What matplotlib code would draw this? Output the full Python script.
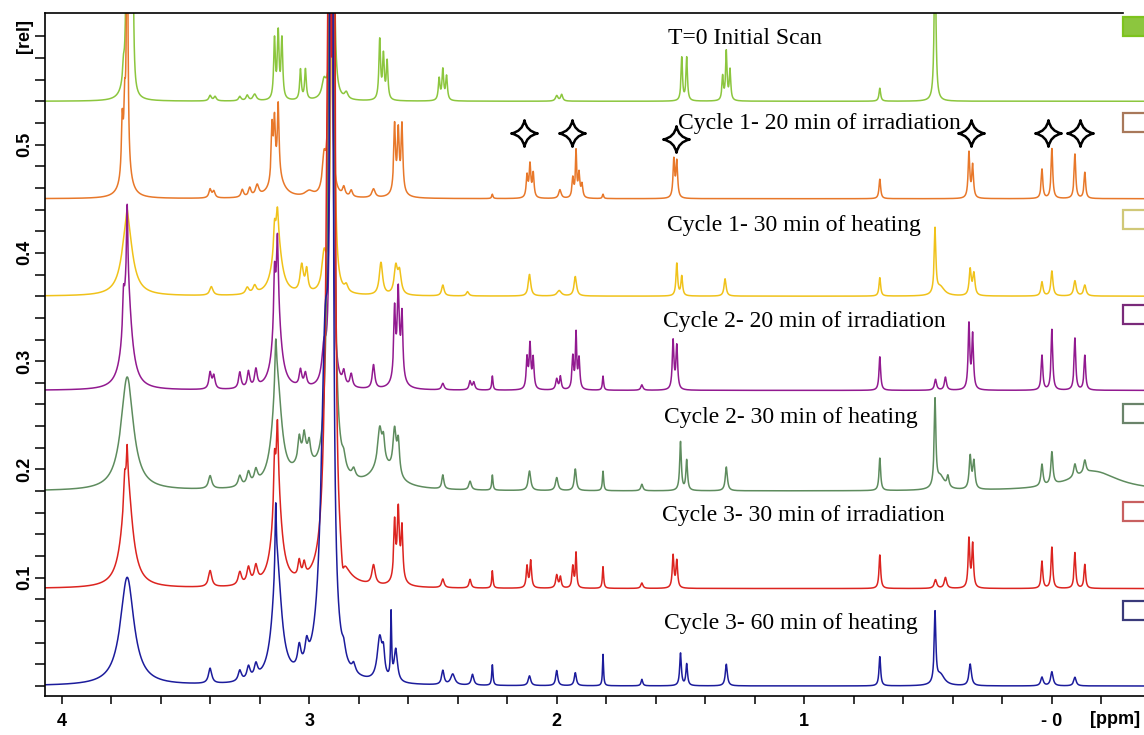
import numpy as np
import matplotlib
matplotlib.use("Agg")
import matplotlib.pyplot as plt
from matplotlib.path import Path
from matplotlib.patches import Rectangle

# ---- data (ppm, height, half width) ----
labels = [
    "T=0 Initial Scan",
    "Cycle 1- 20 min of irradiation",
    "Cycle 1- 30 min of heating",
    "Cycle 2- 20 min of irradiation",
    "Cycle 2- 30 min of heating",
    "Cycle 3- 30 min of irradiation",
    "Cycle 3- 60 min of heating",
]
offsets = [0.54, 0.45, 0.36, 0.273, 0.18, 0.09, 0.0]
colors = ["#8cc63e", "#e8782a", "#f0c21a", "#921a90", "#5e8c5e", "#dc2420", "#1c1c9c"]
box_edges = ["#7dc31d", "#a8785a", "#d0c878", "#7a2a7a", "#6a846a", "#c86060", "#3a3a7a"]

t0_peaks = [
    (3.74, 0.015, 0.02), (3.75, 0.015, 0.004), (3.736, 0.3, 0.003), (3.724, 0.05, 0.004),
    (3.714, 0.3, 0.003), (3.40, 0.005, 0.006), (3.38, 0.004, 0.006), (3.28, 0.004, 0.006),
    (3.25, 0.005, 0.006), (3.22, 0.006, 0.008), (3.14, 0.055, 0.004), (3.125, 0.06, 0.004),
    (3.11, 0.055, 0.004), (3.035, 0.028, 0.004), (3.015, 0.028, 0.004), (2.94, 0.015, 0.01),
    (2.905, 1.0, 0.003), (2.85, 0.006, 0.008), (2.715, 0.055, 0.004), (2.70, 0.04, 0.004),
    (2.685, 0.035, 0.004), (2.475, 0.02, 0.004), (2.46, 0.028, 0.004), (2.445, 0.022, 0.004),
    (2.00, 0.005, 0.006), (1.98, 0.006, 0.005), (1.495, 0.04, 0.0035), (1.475, 0.04, 0.0035),
    (1.33, 0.022, 0.0035), (1.315, 0.045, 0.0035), (1.30, 0.028, 0.0035),
    (0.695, 0.012, 0.004), (0.472, 0.15, 0.004),
]
c1_irr_peaks = [
    (3.74, 0.03, 0.02), (3.755, 0.05, 0.004), (3.745, 0.05, 0.004), (3.735, 0.3, 0.003),
    (3.40, 0.008, 0.006), (3.385, 0.006, 0.006), (3.27, 0.007, 0.006), (3.24, 0.008, 0.006),
    (3.21, 0.01, 0.008), (3.13, 0.02, 0.03), (3.15, 0.05, 0.004), (3.14, 0.05, 0.004),
    (3.125, 0.065, 0.004), (3.0, 0.005, 0.02), (2.94, 0.03, 0.008), (2.915, 1.0, 0.003),
    (2.86, 0.008, 0.006), (2.83, 0.006, 0.006), (2.74, 0.008, 0.008), (2.64, 0.01, 0.02),
    (2.655, 0.06, 0.004), (2.64, 0.05, 0.004), (2.625, 0.06, 0.004), (2.26, 0.004, 0.003),
    (2.12, 0.02, 0.004), (2.108, 0.03, 0.004), (2.095, 0.022, 0.004), (1.987, 0.008, 0.006),
    (1.935, 0.018, 0.004), (1.922, 0.042, 0.003), (1.91, 0.022, 0.004), (1.898, 0.012, 0.004),
    (1.813, 0.004, 0.003), (1.527, 0.035, 0.004), (1.515, 0.033, 0.004),
    (0.695, 0.018, 0.004), (0.335, 0.042, 0.004), (0.32, 0.03, 0.004),
    (0.04, 0.027, 0.004), (0.0, 0.046, 0.004), (-0.093, 0.041, 0.004), (-0.133, 0.024, 0.004),
]
c1_heat_peaks = [
    (3.735, 0.07, 0.025), (3.735, 0.01, 0.004), (3.395, 0.008, 0.008), (3.25, 0.006, 0.008),
    (3.22, 0.007, 0.008), (3.13, 0.06, 0.02), (3.14, 0.02, 0.004), (3.128, 0.02, 0.004),
    (3.03, 0.025, 0.008), (3.01, 0.02, 0.006), (2.94, 0.03, 0.01), (2.905, 1.0, 0.004),
    (2.85, 0.006, 0.008), (2.71, 0.03, 0.008), (2.65, 0.025, 0.008), (2.635, 0.02, 0.008),
    (2.46, 0.01, 0.006), (2.36, 0.004, 0.006), (2.11, 0.02, 0.006), (1.99, 0.005, 0.01),
    (1.925, 0.018, 0.006), (1.515, 0.03, 0.004), (1.495, 0.018, 0.004), (1.32, 0.016, 0.005),
    (0.695, 0.017, 0.004), (0.472, 0.06, 0.004), (0.45, 0.008, 0.02),
    (0.33, 0.024, 0.005), (0.315, 0.02, 0.005), (0.04, 0.013, 0.005), (0.0, 0.023, 0.005),
    (-0.093, 0.014, 0.006), (-0.133, 0.01, 0.006),
]
c2_irr_peaks = [
    (3.735, 0.1, 0.02), (3.75, 0.03, 0.004), (3.735, 0.07, 0.003), (3.40, 0.015, 0.006),
    (3.385, 0.012, 0.006), (3.28, 0.015, 0.006), (3.245, 0.015, 0.006), (3.215, 0.016, 0.006),
    (3.13, 0.08, 0.018), (3.14, 0.05, 0.004), (3.128, 0.06, 0.004), (3.035, 0.015, 0.006),
    (3.015, 0.012, 0.006), (2.94, 0.03, 0.01), (2.91, 1.0, 0.004), (2.86, 0.012, 0.006),
    (2.83, 0.012, 0.006), (2.74, 0.022, 0.006), (2.64, 0.03, 0.015), (2.655, 0.06, 0.004),
    (2.64, 0.06, 0.004), (2.625, 0.055, 0.004), (2.46, 0.006, 0.006), (2.35, 0.008, 0.005),
    (2.335, 0.007, 0.005), (2.26, 0.013, 0.003), (2.12, 0.028, 0.004), (2.108, 0.04, 0.004),
    (2.095, 0.028, 0.004), (2.0, 0.01, 0.005), (1.985, 0.012, 0.004), (1.935, 0.03, 0.004),
    (1.922, 0.05, 0.003), (1.91, 0.028, 0.004), (1.813, 0.013, 0.003), (1.656, 0.005, 0.005),
    (1.53, 0.045, 0.004), (1.515, 0.04, 0.004), (0.695, 0.031, 0.004), (0.47, 0.01, 0.005),
    (0.43, 0.012, 0.005), (0.335, 0.06, 0.004), (0.32, 0.05, 0.004), (0.04, 0.032, 0.004),
    (0.0, 0.056, 0.004), (-0.093, 0.048, 0.004), (-0.133, 0.032, 0.004),
]
c2_heat_peaks = [
    (3.735, 0.105, 0.03), (3.40, 0.012, 0.008), (3.28, 0.01, 0.008), (3.245, 0.012, 0.008),
    (3.215, 0.012, 0.008), (3.13, 0.1, 0.022), (3.135, 0.04, 0.004), (3.02, 0.025, 0.04),
    (3.04, 0.02, 0.006), (3.02, 0.018, 0.006), (3.0, 0.015, 0.006), (2.915, 0.5, 0.01),
    (2.905, 1.0, 0.004), (2.7, 0.02, 0.06), (2.86, 0.01, 0.008), (2.82, 0.008, 0.008),
    (2.715, 0.035, 0.01), (2.70, 0.02, 0.006), (2.655, 0.04, 0.008), (2.64, 0.03, 0.006),
    (2.46, 0.013, 0.005), (2.35, 0.008, 0.006), (2.26, 0.014, 0.003), (2.11, 0.018, 0.006),
    (2.0, 0.012, 0.006), (1.925, 0.02, 0.005), (1.813, 0.018, 0.003), (1.656, 0.006, 0.005),
    (1.50, 0.045, 0.004), (1.475, 0.028, 0.004), (1.315, 0.022, 0.005),
    (0.695, 0.03, 0.004), (0.472, 0.08, 0.004), (0.45, 0.012, 0.02), (0.42, 0.01, 0.005),
    (0.33, 0.03, 0.005), (0.315, 0.025, 0.005), (0.04, 0.02, 0.005), (0.0, 0.03, 0.005),
    (-0.17, 0.018, 0.12), (-0.093, 0.012, 0.006), (-0.133, 0.012, 0.006),
]
c3_irr_peaks = [
    (3.735, 0.1, 0.025), (3.745, 0.02, 0.004), (3.735, 0.03, 0.003), (3.40, 0.015, 0.008),
    (3.28, 0.012, 0.008), (3.245, 0.015, 0.008), (3.215, 0.015, 0.008), (3.13, 0.1, 0.02),
    (3.14, 0.04, 0.004), (3.128, 0.05, 0.004), (3.04, 0.015, 0.006), (3.02, 0.012, 0.006),
    (2.92, 0.6, 0.012), (2.9, 1.0, 0.004), (2.865, -0.02, 0.008), (2.74, 0.018, 0.008),
    (2.64, 0.02, 0.015), (2.655, 0.05, 0.004), (2.64, 0.05, 0.004), (2.625, 0.045, 0.004),
    (2.46, 0.008, 0.006), (2.35, 0.008, 0.005), (2.26, 0.016, 0.003), (2.12, 0.02, 0.004),
    (2.105, 0.025, 0.004), (2.0, 0.012, 0.005), (1.985, 0.01, 0.004), (1.935, 0.02, 0.004),
    (1.922, 0.032, 0.003), (1.813, 0.02, 0.003), (1.656, 0.005, 0.005), (1.53, 0.03, 0.004),
    (1.515, 0.025, 0.004), (0.695, 0.031, 0.004), (0.47, 0.008, 0.006), (0.43, 0.01, 0.006),
    (0.335, 0.045, 0.004), (0.32, 0.04, 0.004), (0.04, 0.025, 0.004), (0.0, 0.038, 0.004),
    (-0.093, 0.033, 0.004), (-0.133, 0.022, 0.004),
]
c3_heat_peaks = [
    (3.735, 0.1, 0.033), (3.40, 0.014, 0.008), (3.28, 0.01, 0.008), (3.245, 0.012, 0.008),
    (3.215, 0.012, 0.008), (3.13, 0.11, 0.022), (3.135, 0.06, 0.003), (3.04, 0.02, 0.008),
    (3.01, 0.018, 0.008), (2.935, 0.3, 0.02), (2.91, 2.0, 0.004), (2.86, 0.01, 0.008),
    (2.82, 0.008, 0.008), (2.715, 0.04, 0.012), (2.70, 0.02, 0.006), (2.669, 0.06, 0.0025),
    (2.65, 0.03, 0.008), (2.46, 0.013, 0.006), (2.42, 0.01, 0.01), (2.34, 0.01, 0.006),
    (2.26, 0.019, 0.003), (2.11, 0.009, 0.006), (2.0, 0.014, 0.005), (1.925, 0.012, 0.005),
    (1.813, 0.029, 0.0025), (1.656, 0.006, 0.004), (1.50, 0.03, 0.004), (1.475, 0.02, 0.004),
    (1.315, 0.02, 0.005), (0.695, 0.027, 0.004), (0.472, 0.065, 0.004), (0.45, 0.01, 0.02),
    (0.33, 0.02, 0.006), (0.04, 0.008, 0.006), (0.0, 0.013, 0.006), (-0.093, 0.008, 0.006),
]
all_peaks = [t0_peaks, c1_irr_peaks, c1_heat_peaks, c2_irr_peaks,
             c2_heat_peaks, c3_irr_peaks, c3_heat_peaks]

# stars mark the new peaks in the cycle 1 irradiation spectrum
star_ppm = [2.132, 1.939, 1.519, 0.327, 0.016, -0.113]
star_rel = [0.511, 0.511, 0.505, 0.511, 0.511, 0.511]

# ---- figure ----
W, H = 1144, 735
fig = plt.figure(figsize=(W / 100, H / 100), dpi=100)
ax = fig.add_axes([45 / W, 1 - 696 / H, (W - 45) / W, (696 - 13) / H])

ppm = np.linspace(-0.45, 4.15, 12000)


def lorentz_sum(peaks, x):
    y = np.zeros_like(x)
    for c, h, w in peaks:
        y += h / (1 + ((x - c) / w) ** 2)
    return y


for peaks, off, col in zip(all_peaks, offsets, colors):
    ax.plot(ppm, off + lorentz_sum(peaks, ppm), color=col, lw=1.1)

# four-point star marker
verts = [(0, 1), (0.16, 0.16), (1, 0), (0.16, -0.16), (0, -1),
         (-0.16, -0.16), (-1, 0), (-0.16, 0.16), (0, 1), (0, 1)]
codes = [Path.MOVETO, Path.CURVE3, Path.CURVE3, Path.CURVE3, Path.CURVE3,
         Path.CURVE3, Path.CURVE3, Path.CURVE3, Path.CURVE3, Path.CLOSEPOLY]
star = Path(verts, codes)
ax.plot(star_ppm, star_rel, ls="none", marker=star, ms=19, mfc="white",
        mec="black", mew=1.8, zorder=5)

ax.set_xlim(4.067, -0.372)
ax.set_ylim(-0.0092, 0.6215)

ax.set_xticks([4, 3, 2, 1, 0])
ax.set_xticklabels(["4", "3", "2", "1", "- 0"], fontsize=13, fontweight="bold",
                   family="Liberation Sans")
ax.set_xticks(np.arange(-0.2, 4.01, 0.2), minor=True)
ax.set_yticks([0, 0.1, 0.2, 0.3, 0.4, 0.5, 0.6])
ax.set_yticklabels(["", "0.1", "0.2", "0.3", "0.4", "0.5", "[rel]"], rotation=90,
                   va="center", fontsize=13, fontweight="bold", family="Liberation Sans")
ax.set_yticks(np.arange(0, 0.62, 0.02), minor=True)
ax.tick_params(axis="x", which="both", direction="out", length=6, width=1.1, pad=6)
ax.tick_params(axis="y", which="both", direction="out", length=7, width=1.1, pad=1.5)
ax.spines["right"].set_visible(False)
ax.spines["top"].set_bounds(4.067, -0.287)
for s in ["left", "top", "bottom"]:
    ax.spines[s].set_linewidth(1.2)

fig.text(1140 / W, 1 - 720 / H, "[ppm]", ha="right", va="center", fontsize=13,
         fontweight="bold", family="Liberation Sans")

# trace labels
label_x = [668, 678, 667, 663, 664, 662, 664]
label_y = [38, 123, 225, 321, 418, 516, 623]
for txt, lx, ly in zip(labels, label_x, label_y):
    fig.text(lx / W, 1 - ly / H, txt, ha="left", va="center", fontsize=17,
             family="Liberation Serif", zorder=4)

# colour keys at the right edge
box_y = [17, 113, 210, 305, 404, 502, 601]
for i, (by, ec) in enumerate(zip(box_y, box_edges)):
    fc = colors[0] if i == 0 else "white"
    fig.patches.append(Rectangle((1123 / W, 1 - (by + 19) / H), 40 / W, 19 / H,
                                 transform=fig.transFigure, fc=fc, ec=ec, lw=1.6))

fig.savefig("out.png", dpi=100)
